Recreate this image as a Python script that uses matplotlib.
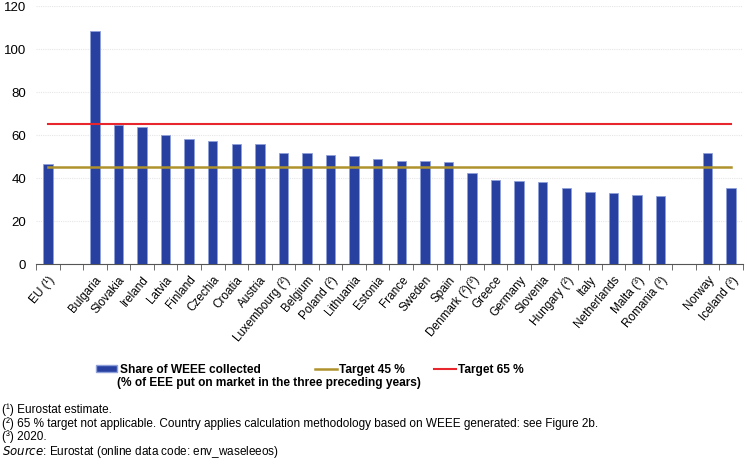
import numpy as np
import matplotlib.pyplot as plt
from matplotlib.patches import Patch
from matplotlib.lines import Line2D

plt.rcParams['font.family'] = ['Liberation Sans', 'DejaVu Sans']

countries = ['EU (¹)', '', 'Bulgaria', 'Slovakia', 'Ireland', 'Latvia', 'Finland',
             'Czechia', 'Croatia', 'Austria', 'Luxembourg (²)', 'Belgium', 'Poland (²)',
             'Lithuania', 'Estonia', 'France', 'Sweden', 'Spain', 'Denmark (²)(³)',
             'Greece', 'Germany', 'Slovenia', 'Hungary (²)', 'Italy', 'Netherlands',
             'Malta (³)', 'Romania (³)', ' ', 'Norway', 'Iceland (³)']
share = [46.4, np.nan, 108.2, 64.7, 63.7, 60.2, 58.3,
         57.4, 56.1, 56.0, 51.9, 51.5, 51.0,
         50.5, 49.0, 47.9, 47.9, 47.6, 42.6,
         39.1, 38.6, 38.0, 35.5, 33.6, 33.2,
         32.2, 31.5, np.nan, 51.9, 35.2]
target45 = 45
target65 = 65

blue = '#2841A0'
olive = '#AE922C'
red = '#E8262E'

fig = plt.figure(figsize=(7.47, 4.66), dpi=100)
ax = fig.add_axes([0.0482, 0.433, 0.9464, 0.554])

x = np.arange(len(countries))
ax.bar(x, share, width=0.4, color=blue, edgecolor='#8FA0DA', linewidth=0.6, zorder=3)
ax.plot([x[0], x[-1]], [target45, target45], color=olive, lw=1.8, zorder=4)
ax.plot([x[0], x[-1]], [target65, target65], color=red, lw=1.5, zorder=4)

ax.set_xlim(-0.5, len(countries) - 0.5)
ax.set_ylim(0, 120)
ax.set_yticks(range(0, 121, 20))
ax.yaxis.grid(True, color='#e6e6e6', ls=(0, (1, 1)), lw=0.8, zorder=0)
for s in ['left', 'right', 'top']:
    ax.spines[s].set_visible(False)
ax.spines['bottom'].set_color('#555555')
ax.tick_params(axis='y', length=0, pad=7, labelsize=9.5)

ax.set_xticks(x)
ax.set_xticklabels(countries, rotation=50, ha='right', va='top',
                   rotation_mode='anchor', fontsize=8.5)
ax.tick_params(axis='x', which='major', length=0, pad=7)
ax.set_xticks(np.arange(-0.5, len(countries)), minor=True)
ax.tick_params(axis='x', which='minor', length=4, color='#555555')

h1 = Patch(facecolor=blue, edgecolor='#8FA0DA')
h2 = Line2D([], [], color=olive, lw=1.8)
h3 = Line2D([], [], color=red, lw=1.5)
kw = dict(frameon=False, handlelength=1.8, handleheight=0.5, handletextpad=0.2,
          borderaxespad=0, borderpad=0, prop={'weight': 'bold', 'size': 8.6})
fig.legend([h1], ['Share of WEEE collected'], loc='center left',
           bbox_to_anchor=(96 / 747, 1 - 370 / 466), **kw)
fig.legend([h2], ['Target 45 %'], loc='center left',
           bbox_to_anchor=(315 / 747, 1 - 370 / 466), **kw)
fig.legend([h3], ['Target 65 %'], loc='center left',
           bbox_to_anchor=(434 / 747, 1 - 370 / 466), **kw)
fig.text(117 / 747, 1 - 383 / 466, '(% of EEE put on market in the three preceding years)',
         fontsize=8.6, fontweight='bold', va='center')

notes = ['(¹) Eurostat estimate.',
         '(²) 65 % target not applicable. Country applies calculation methodology based on WEEE generated: see Figure 2b.',
         '(³) 2020.']
ys = [410, 424, 437]
for t, yy in zip(notes, ys):
    fig.text(2 / 747, 1 - yy / 466, t, fontsize=8.5, va='center')
fig.text(2 / 747, 1 - 452 / 466, r'$\it{Source}$' + ': Eurostat (online data code: env_waseleeos)',
         fontsize=8.5, va='center')

fig.savefig('out.png', dpi=100)
